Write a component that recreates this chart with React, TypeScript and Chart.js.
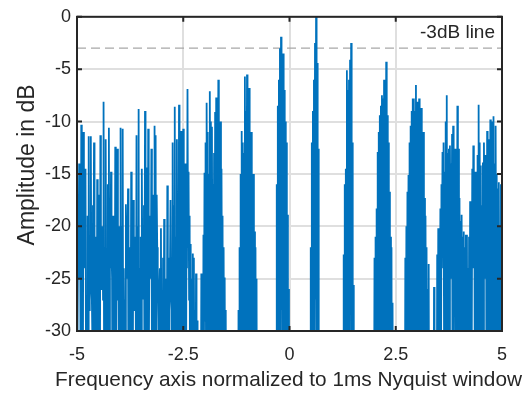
import { useEffect, useRef } from "react";
import { Chart, registerables } from "chart.js";

Chart.register(...registerables);

// Frequency grid (normalized to 1 ms Nyquist window): one bin per 0.025,
// each bin has a peak sample followed by a trough sample half a bin later.
const FREQ_START = -5;
const BIN = 0.025;

// Peak samples (dB) per bin, x = -5.0 ... -0.025
const PEAK_DB_LEFT = [
  -17.5, -21, -14, -19, -10.3, -26, -11, -16, -14.5, -28,
  -19, -11.4, -23, -11.4, -27, -18, -12, -30, -21, -15.5,
  -24, -17, -11.3, -26, -20, -8.1, -22, -11.7, -29, -16,
  -10.6, -22, -14.8, -25, -19, -23, -12.4, -27, -12.6, -20,
  -28, -10.6, -20, -10.7, -24, -27, -17.9, -21, -16.4, -26,
  -22, -14.8, -25, -17.5, -28, -21, -11.3, -20, -8.8, -24,
  -21, -14.5, -27, -18, -9, -22, -14.4, -10.7, -24, -19,
  -12.6, -26, -17, -10.4, -11.3, -17, -24, -29, -24, -20.2,
  -27, -23, -19.3, -28, -25, -16.1, -26, -23, -17.5, -28,
  -12, -18, -8.6, -21, -11.7, -24, -8.4, -15, -10.9, -22,
  -10.7, -17, -14, -22, -6.9, -14.8, -19, -21.7, -25, -22.6,
  -23, -28, -24.5, -29, -35, -40, -32, -24.5, -28, -20.8,
  -14.9, -12, -8.2, -11, -15, -7.1, -10, -10.5, -16, -13,
  -9.1, -7.7, -12, -6, -12, -10, -14.5, -19, -22, -24.9,
  -28, -45, -60, -60, -60, -60, -60, -60, -60, -60,
  -60, -45, -28, -22, -15, -10.9, -12, -13, -5.7, -9,
  -5.5, -8, -6.8, -12, -11, -17.4, -15, -20.5, -22, -25,
  -55, -60, -60, -60, -60, -60, -60, -60, -60, -60,
  -60, -60, -60, -60, -60, -60, -60, -45, -16, -8.5,
  -6, -3, -1.9, -4, -3.5, -7, -10, -12, -18.9, -26,
];
// Peak samples (dB) per bin, x = 0 ... 5.0
const PEAK_DB_RIGHT = [
  -60, -60, -60, -60, -60, -60, -60, -60, -60, -60,
  -60, -60, -60, -60, -60, -60, -60, -60, -60, -60,
  -22, -12, -9, -6, -2.5, 0, -4.4, -12.6, -35, -60,
  -60, -60, -60, -60, -60, -60, -60, -60, -60, -60,
  -60, -60, -60, -60, -60, -60, -60, -60, -60, -60,
  -30, -22.7, -16, -14.5, -5.1, -7, -6, -4.1, -2.5, -12,
  -25.6, -40, -60, -60, -60, -60, -60, -60, -60, -60,
  -60, -60, -60, -60, -60, -60, -60, -60, -60, -60,
  -23, -21, -18.3, -12.9, -11, -9.4, -8.5, -7.5, -7.8, -6,
  -8, -4.3, -9.4, -12, -16.7, -21, -22, -27.3, -45, -60,
  -60, -60, -60, -60, -60, -60, -60, -45, -30, -23,
  -20, -16.7, -15.1, -12, -10.4, -9, -7.8, -7.8, -9, -6.5,
  -8.1, -10, -7.8, -11, -8.7, -13, -11, -17.3, -19, -22,
  -26, -23.6, -40, -55, -60, -50, -25.8, -45, -30, -22.7,
  -20.2, -24, -18.3, -16, -12.9, -12, -14.8, -10, -7.5, -13,
  -12.6, -12.3, -14, -11.2, -10.4, -13, -12.6, -14, -8.5, -12.6,
  -17.3, -19.5, -18.9, -21, -20.5, -22, -20.8, -20.8, -24, -21,
  -17.6, -19, -14.5, -12.3, -16, -14.8, -17, -13.2, -8.4, -12,
  -14.2, -18, -13.9, -12, -13.2, -14, -10.9, -11.7, -14, -9.8,
  -12, -10, -9.5, -14, -10.4, -15, -16.4, -15.8, -20, -16,
  -15.1,
];
// Trough samples (dB) between consecutive peaks, x = -4.9875 ... -0.0125
const TROUGH_DB_LEFT = [
  -30, -22, -25, -42, -33, -38, -24, -21, -35, -31,
  -40, -28, -25, -26, -31, -26, -38, -33, -45, -29,
  -36, -42, -21, -24, -27, -34, -45, -30, -37, -41,
  -33, -24, -22, -44, -35, -31, -40, -26, -23, -43,
  -39, -32, -45, -37, -30, -41, -22, -25, -43, -38,
  -31, -44, -36, -23, -26, -33, -38, -27, -42, -35,
  -37, -24, -22, -34, -39, -28, -41, -36, -23, -25,
  -33, -40, -29, -37, -44, -22, -26, -36, -38, -35,
  -41, -36, -33, -45, -39, -30, -43, -24, -27, -40,
  -28, -38, -34, -42, -31, -36, -29, -44, -33, -39,
  -35, -30, -41, -24, -22, -27, -43, -38, -33, -40,
  -38, -45, -36, -50, -55, -55, -42, -40, -45, -31,
  -29, -36, -24, -40, -33, -27, -44, -30, -38, -35,
  -31, -40, -28, -37, -42, -34, -30, -45, -38, -41,
  -50, -60, -60, -60, -60, -60, -60, -60, -60, -60,
  -60, -60, -40, -35, -30, -38, -27, -42, -33, -29,
  -36, -31, -44, -28, -39, -34, -41, -37, -45, -50,
  -60, -60, -60, -60, -60, -60, -60, -60, -60, -60,
  -60, -60, -60, -60, -60, -60, -60, -60, -40, -30,
  -22, -33, -28, -40, -35, -30, -44, -38, -42, -60,
];
// Trough samples (dB) between consecutive peaks, x = 0.0125 ... 4.9875
const TROUGH_DB_RIGHT = [
  -60, -60, -60, -60, -60, -60, -60, -60, -60, -60,
  -60, -60, -60, -60, -60, -60, -60, -60, -60, -60,
  -45, -30, -38, -33, -27, -36, -31, -40, -50, -60,
  -60, -60, -60, -60, -60, -60, -60, -60, -60, -60,
  -60, -60, -60, -60, -60, -60, -60, -60, -60, -60,
  -60, -40, -35, -28, -38, -31, -42, -27, -36, -33,
  -45, -60, -60, -60, -60, -60, -60, -60, -60, -60,
  -60, -60, -60, -60, -60, -60, -60, -60, -60, -60,
  -45, -38, -33, -29, -40, -35, -27, -42, -31, -37,
  -30, -44, -36, -28, -41, -39, -50, -46, -60, -60,
  -60, -60, -60, -60, -60, -60, -60, -60, -45, -38,
  -35, -28, -41, -33, -38, -30, -44, -27, -36, -40,
  -31, -42, -29, -37, -34, -45, -32, -39, -36, -43,
  -40, -45, -55, -60, -60, -60, -50, -55, -45, -38,
  -35, -30, -42, -24, -22, -33, -40, -26, -38, -31,
  -44, -23, -25, -41, -32, -27, -39, -34, -43, -30,
  -37, -45, -32, -40, -35, -48, -38, -42, -50, -36,
  -41, -33, -24, -22, -44, -31, -36, -27, -40, -34,
  -30, -43, -37, -23, -25, -45, -33, -36, -41, -29,
  -38, -32, -44, -35, -30, -42, -37, -33, -46, -39,
];

const X_TICKS = [-5, -2.5, 0, 2.5, 5];
const Y_TICKS = [-30, -25, -20, -15, -10, -5, 0];
const THRESHOLD_DB = -3;
const THRESHOLD_LABEL = "-3dB line";
const X_TITLE = "Frequency axis normalized to 1ms Nyquist window";
const Y_TITLE = "Amplitude in dB";

const FONT = "'Liberation Sans', Arial, Helvetica, sans-serif";
const TEXT = "#262626";

export default function App() {
  const ref = useRef<HTMLCanvasElement | null>(null);

  useEffect(() => {
    if (!ref.current) return;
    const peaks = [...PEAK_DB_LEFT, ...PEAK_DB_RIGHT];
    const troughs = [...TROUGH_DB_LEFT, ...TROUGH_DB_RIGHT];
    const points: { x: number; y: number }[] = [];
    peaks.forEach((p, m) => {
      points.push({ x: FREQ_START + m * BIN, y: p });
      if (m < troughs.length) points.push({ x: FREQ_START + (m + 0.5) * BIN, y: troughs[m] });
    });
    const xMin = X_TICKS[0];
    const xMax = X_TICKS[X_TICKS.length - 1];

    const boxPlugin = {
      id: "matlabBox",
      afterDatasetsDraw(chart: any) {
        const { ctx, chartArea, scales } = chart;
        const { left, right, top, bottom } = chartArea;
        ctx.save();
        ctx.strokeStyle = TEXT;
        ctx.lineWidth = 2;
        ctx.strokeRect(left, top, right - left, bottom - top);
        ctx.beginPath();
        for (const v of X_TICKS) {
          const px = scales.x.getPixelForValue(v);
          ctx.moveTo(px, bottom);
          ctx.lineTo(px, bottom - 5);
          ctx.moveTo(px, top);
          ctx.lineTo(px, top + 5);
        }
        for (const v of Y_TICKS) {
          const py = scales.y.getPixelForValue(v);
          ctx.moveTo(left, py);
          ctx.lineTo(left + 5, py);
          ctx.moveTo(right, py);
          ctx.lineTo(right - 5, py);
        }
        ctx.stroke();
        const yThr = scales.y.getPixelForValue(THRESHOLD_DB);
        ctx.fillStyle = TEXT;
        ctx.font = `19px ${FONT}`;
        ctx.textAlign = "right";
        ctx.textBaseline = "middle";
        ctx.fillText(THRESHOLD_LABEL, right - 7, (top + yThr) / 2);

        // axis titles
        ctx.textAlign = "center";
        ctx.textBaseline = "alphabetic";
        ctx.font = `20.8px ${FONT}`;
        ctx.fillText(X_TITLE, (left + right) / 2 - 1, 385.5);
        ctx.save();
        ctx.translate(34, (top + bottom) / 2 - 9);
        ctx.rotate(-Math.PI / 2);
        ctx.font = `23px ${FONT}`;
        ctx.fillText(Y_TITLE, 0, 0);
        ctx.restore();
        ctx.restore();
      },
    };

    const chart = new Chart(ref.current, {
      type: "line",
      data: {
        datasets: [
          {
            data: points,
            borderColor: "#0072BD",
            borderWidth: 1.8,
            pointRadius: 0,
            tension: 0,
            order: 0,
          },
          {
            data: [
              { x: xMin, y: THRESHOLD_DB },
              { x: xMax, y: THRESHOLD_DB },
            ],
            borderColor: "#a8a8a8",
            borderWidth: 1.3,
            borderDash: [9, 5],
            pointRadius: 0,
            order: 1,
          },
        ],
      },
      options: {
        responsive: false,
        animation: false,
        events: [],
        layout: { padding: { top: 13, right: 22, left: 0, bottom: 0 } },
        plugins: { legend: { display: false }, tooltip: { enabled: false } },
        scales: {
          x: {
            type: "linear",
            min: xMin,
            max: xMax,
            afterFit: (s: any) => {
              s.height = 65;
            },
            afterBuildTicks: (s: any) => {
              s.ticks = X_TICKS.map((v) => ({ value: v }));
            },
            ticks: { font: { size: 18, family: FONT }, color: TEXT, padding: 13, maxRotation: 0 },
            grid: { color: "#dfdfdf", lineWidth: 2, drawTicks: false },
            border: { display: false },
          },
          y: {
            type: "linear",
            min: Y_TICKS[0],
            max: Y_TICKS[Y_TICKS.length - 1],
            afterFit: (s: any) => {
              s.width = 77;
            },
            afterBuildTicks: (s: any) => {
              s.ticks = Y_TICKS.map((v) => ({ value: v }));
            },
            ticks: { font: { size: 18, family: FONT }, color: TEXT, padding: 6 },
            grid: { color: "#dfdfdf", lineWidth: 2, drawTicks: false },
            border: { display: false },
          },
        },
      },
      plugins: [boxPlugin],
    });
    return () => chart.destroy();
  }, []);

  return (
    <div style={{ position: "absolute", left: 0, top: 0, width: 524, height: 396, background: "#fff" }}>
      <canvas ref={ref} width={524} height={396} style={{ display: "block" }} />
    </div>
  );
}
